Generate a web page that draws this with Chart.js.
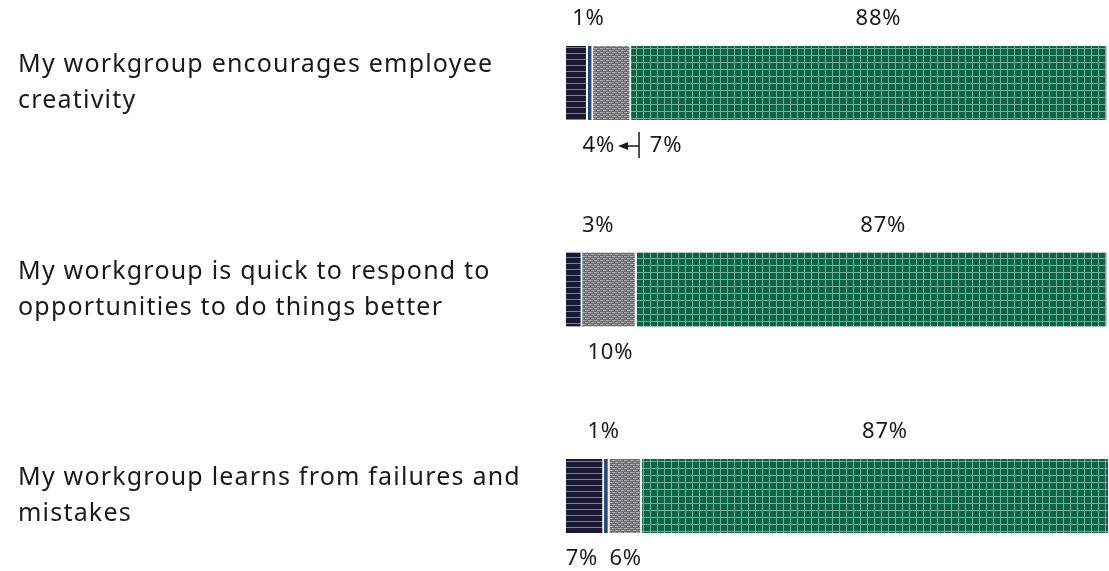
<!DOCTYPE html>
<html>
<head>
<meta charset="utf-8">
<script src="https://cdn.jsdelivr.net/npm/chart.js@4/dist/chart.umd.min.js"></script>
<style>
  html, body { margin: 0; padding: 0; background: #fff; }
  #wrap { width: 1109px; height: 571px; position: relative; }
</style>
</head>
<body>
<div id="wrap"><canvas id="chart"></canvas></div>
<script>
const questions = [
  ['My workgroup encourages employee', 'creativity'],
  ['My workgroup is quick to respond to', 'opportunities to do things better'],
  ['My workgroup learns from failures and', 'mistakes']
];
const disagree = [4, 3, 7];
const neutralLow = [1, 0, 1];
const neither = [7, 10, 6];
const agree = [88, 87, 87];

// where each value label sits: side of the bar and a small nudge in px
const labelSide = {
  disagree: ['bottom', 'top', 'bottom'],
  neutralLow: ['top', null, 'top'],
  neither: ['bottom', 'bottom', 'bottom'],
  agree: ['top', 'top', 'top']
};
const labelNudge = {
  disagree: [22, 24, -3],
  neutralLow: [-2, 0, -3],
  neither: [54, 1, 0],
  agree: [9, 11, 10]
};

const TEXT = '#1a1a1a';
const FONT = '"Noto Sans", sans-serif';

function makePattern(w, h, draw) {
  const c = document.createElement('canvas');
  c.width = w; c.height = h;
  draw(c.getContext('2d'));
  return c.getContext('2d').createPattern(c, 'repeat');
}

const ctxMain = document.getElementById('chart').getContext('2d');

const navyFill = makePattern(6, 6, g => {
  g.fillStyle = '#1b1836'; g.fillRect(0, 0, 6, 6);
  g.fillStyle = '#7e7c96'; g.fillRect(0, 5, 6, 1);
});
const blueFill = makePattern(4, 4, g => {
  g.fillStyle = '#1d4a78'; g.fillRect(0, 0, 4, 4);
});
const greyFill = makePattern(6, 4, g => {
  g.fillStyle = '#6a6a6e'; g.fillRect(0, 0, 6, 4);
  g.fillStyle = '#b4b4b8';
  g.fillRect(0, 0, 3, 1); g.fillRect(3, 2, 3, 1);
  g.fillStyle = '#8e8e92';
  g.fillRect(3, 0, 2, 1); g.fillRect(0, 2, 2, 1);
});
const greenFill = makePattern(7, 7, g => {
  g.fillStyle = '#0b6446'; g.fillRect(0, 0, 7, 7);
  g.fillStyle = '#72b096';
  g.fillRect(6, 0, 1, 7); g.fillRect(0, 6, 7, 1);
});

function seg(key, data, fill) {
  return {
    key, label: key, data,
    backgroundColor: fill,
    borderColor: '#ffffff',
    borderWidth: { left: 0, right: 2, top: 0, bottom: 0 },
    borderSkipped: false,
    barThickness: 74,
    clip: { left: false, top: false, right: 0, bottom: false }
  };
}

// wider tracking for the question text on the y axis only
const tracking = {
  id: 'tracking',
  beforeDraw(chart) { chart.ctx.letterSpacing = '1.2px'; },
  beforeDatasetsDraw(chart) { chart.ctx.letterSpacing = '0px'; }
};

const valueLabels = {
  id: 'valueLabels',
  afterDatasetsDraw(chart) {
    const c = chart.ctx;
    c.save();
    c.font = '22px ' + FONT;
    c.letterSpacing = '0.8px';
    c.fillStyle = TEXT;
    c.textAlign = 'center';
    c.textBaseline = 'middle';
    chart.data.datasets.forEach((ds, di) => {
      const meta = chart.getDatasetMeta(di);
      meta.data.forEach((bar, j) => {
        const side = labelSide[ds.key][j];
        const v = ds.data[j];
        if (!side || !v) return;
        const left = Math.min(bar.x, bar.base);
        const right = Math.min(Math.max(bar.x, bar.base), chart.chartArea.right);
        const cx = (left + right) / 2 + labelNudge[ds.key][j];
        const half = bar.height / 2;
        const y = side === 'top' ? bar.y - half - 27 : bar.y + half + 26;
        c.fillText(v + '%', cx, y);
        // small segment pushed aside: leader back to its edge
        if (ds.key === 'neither' && j === 0) {
          const lx = right + 8;
          c.strokeStyle = TEXT;
          c.lineWidth = 1.5;
          c.beginPath();
          c.moveTo(lx, y - 14); c.lineTo(lx, y + 12);
          c.moveTo(lx, y); c.lineTo(lx - 14, y);
          c.stroke();
          c.beginPath();
          c.moveTo(lx - 21, y); c.lineTo(lx - 11, y - 4); c.lineTo(lx - 11, y + 4);
          c.closePath();
          c.fill();
        }
      });
    });
    c.restore();
  }
};

new Chart(ctxMain, {
  type: 'bar',
  data: {
    labels: questions,
    datasets: [
      seg('disagree', disagree, navyFill),
      seg('neutralLow', neutralLow, blueFill),
      seg('neither', neither, greyFill),
      seg('agree', agree, greenFill)
    ]
  },
  options: {
    indexAxis: 'y',
    responsive: true,
    maintainAspectRatio: false,
    animation: false,
    layout: { padding: { left: 18, right: 1, top: 83, bottom: 75 } },
    plugins: { legend: { display: false }, tooltip: { enabled: false } },
    scales: {
      x: { stacked: true, min: 0, max: 100, display: false },
      y: {
        stacked: true,
        offset: false,
        grid: { display: false },
        border: { display: false },
        ticks: {
          crossAlign: 'far',
          color: TEXT,
          font: { family: FONT, size: 25, lineHeight: 1.44 }
        },
        afterFit(scale) { scale.width = 548; }
      }
    }
  },
  plugins: [tracking, valueLabels]
});
</script>
</body>
</html>
